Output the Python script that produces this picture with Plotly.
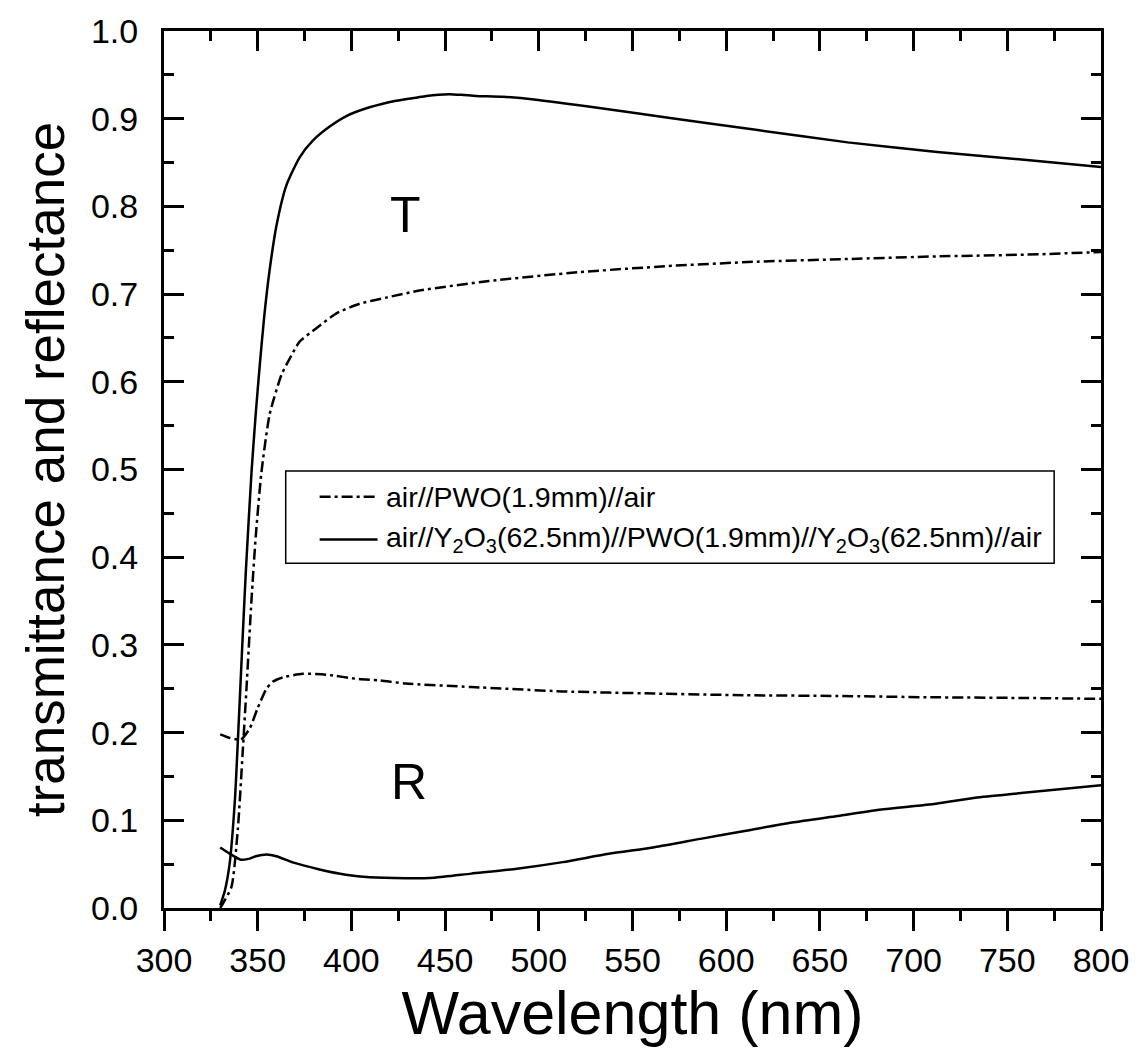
import plotly.graph_objects as go

# Transmittance of bare PWO (dash-dot)
wl_t_pwo = [330, 331.4, 336, 339.4, 342, 344, 346.7, 349, 352, 356.4, 362.7, 368, 372.4,
            381.3, 392, 404.4, 418.6, 436.3, 473.5, 521.3, 569.1, 616.9, 664.8, 712.6, 760.4, 800]
t_pwo = [0.0, 0.005, 0.024, 0.09, 0.178, 0.25, 0.352, 0.425, 0.497, 0.563, 0.608, 0.63, 0.646,
         0.661, 0.678, 0.689, 0.696, 0.704, 0.715, 0.725, 0.732, 0.737, 0.740, 0.743, 0.745, 0.748]

# Transmittance of Y2O3-coated PWO (solid)
wl_t_coat = [330, 332.5, 335, 337.8, 339.4, 342, 343.7, 346.7, 349, 351.1, 353.5, 356.4, 360,
             365.3, 372.4, 379.4, 388.4, 397.3, 409.7, 423.9, 434.5, 440, 452, 460, 466.5, 480.7,
             497.4, 533.2, 569.1, 616.8, 664.8, 712.6, 760.4, 800]
t_coat = [0.003, 0.02, 0.05, 0.122, 0.19, 0.31, 0.385, 0.497, 0.565, 0.619, 0.675, 0.728, 0.778,
          0.824, 0.856, 0.875, 0.891, 0.903, 0.913, 0.9205, 0.924, 0.926, 0.928, 0.927, 0.926, 0.925,
          0.922, 0.912, 0.901, 0.887, 0.873, 0.862, 0.853, 0.845]

# Reflectance of bare PWO (dash-dot)
wl_r_pwo = [330, 335, 341, 345.8, 350, 354.7, 358, 363.5, 374, 386.6, 404, 415, 429, 463.9,
            512.8, 561.7, 610.6, 659.5, 708.4, 757.3, 800]
r_pwo = [0.198, 0.194, 0.192, 0.205, 0.228, 0.25, 0.258, 0.263, 0.267, 0.266, 0.261, 0.2595,
         0.256, 0.252, 0.247, 0.2445, 0.2426, 0.2418, 0.2403, 0.2395, 0.2385]

# Reflectance of Y2O3-coated PWO (solid)
wl_r_coat = [330, 335, 341, 345, 349, 354.7, 360, 368.7, 383, 397, 409.7, 429, 444.3, 463.9,
             488.3, 512.8, 537.3, 561.7, 586.2, 610.6, 635.1, 659.5, 683.9, 708.4, 732.9, 757.3, 800]
r_coat = [0.069, 0.062, 0.055, 0.056, 0.059, 0.061, 0.059, 0.052, 0.044, 0.038, 0.035, 0.034,
          0.0346, 0.0392, 0.0448, 0.0523, 0.0618, 0.0693, 0.0788, 0.0881, 0.0975, 0.105, 0.1126,
          0.118, 0.1258, 0.131, 0.140]

name_pwo = "air//PWO(1.9mm)//air"
name_coat = ("air//Y<sub>2</sub>O<sub>3</sub>(62.5nm)//PWO(1.9mm)//"
             "Y<sub>2</sub>O<sub>3</sub>(62.5nm)//air")

x_ticks = [300, 350, 400, 450, 500, 550, 600, 650, 700, 750, 800]
y_ticks = [0.0, 0.1, 0.2, 0.3, 0.4, 0.5, 0.6, 0.7, 0.8, 0.9, 1.0]

FONT = "Liberation Sans, Arial, sans-serif"
DASHDOT = "11px,4px,3px,4px"
LW = 2.5

fig = go.Figure()
fig.add_trace(go.Scatter(x=wl_t_pwo, y=t_pwo, mode="lines", name=name_pwo,
                         line=dict(color="black", width=LW, dash=DASHDOT, shape="spline", smoothing=0.6)))
fig.add_trace(go.Scatter(x=wl_t_coat, y=t_coat, mode="lines", name=name_coat,
                         line=dict(color="black", width=LW, shape="spline", smoothing=0.6)))
fig.add_trace(go.Scatter(x=wl_r_pwo, y=r_pwo, mode="lines", name=name_pwo,
                         line=dict(color="black", width=LW, dash=DASHDOT, shape="spline", smoothing=0.6)))
fig.add_trace(go.Scatter(x=wl_r_coat, y=r_coat, mode="lines", name=name_coat,
                         line=dict(color="black", width=LW, shape="spline", smoothing=0.6)))
# empty trace that carries the top (mirror) axis
fig.add_trace(go.Scatter(x=[None], y=[None], xaxis="x2", hoverinfo="skip"))

# curve labels
fig.add_annotation(x=429, y=0.79, xref="x", yref="y", text="T", showarrow=False,
                   font=dict(family=FONT, size=50, color="black"))
fig.add_annotation(x=431, y=0.144, xref="x", yref="y", text="R", showarrow=False,
                   font=dict(family=FONT, size=50, color="black"))

# legend box drawn in paper coordinates
LEG_X0, LEG_X1, LEG_Y0, LEG_Y1 = 0.1299, 0.950, 0.3932, 0.4983
ROW_Y = [0.4689, 0.4203]
SAMPLE_X0, SAMPLE_X1, TEXT_X = 0.1661, 0.2279, 0.2343
fig.add_shape(type="rect", xref="paper", yref="paper", x0=LEG_X0, x1=LEG_X1, y0=LEG_Y0, y1=LEG_Y1,
              line=dict(color="black", width=1.5), fillcolor="white", layer="above")
for yy, dash, label in zip(ROW_Y, [DASHDOT, "solid"], [name_pwo, name_coat]):
    fig.add_shape(type="line", xref="paper", yref="paper", x0=SAMPLE_X0, x1=SAMPLE_X1, y0=yy, y1=yy,
                  line=dict(color="black", width=LW, dash=dash), layer="above")
    fig.add_annotation(x=TEXT_X, y=yy, xref="paper", yref="paper", text=label, showarrow=False,
                       xanchor="left", yanchor="middle",
                       font=dict(family=FONT, size=28.5, color="black"))

fig.update_layout(
    width=1141, height=1059,
    margin=dict(l=164, r=38, t=23, b=151),
    paper_bgcolor="white", plot_bgcolor="white",
    font=dict(family=FONT, color="black"),
    showlegend=False,
    xaxis=dict(
        range=[300, 800], tickvals=x_ticks, ticks="outside", ticklen=20, tickwidth=3,
        tickcolor="black", showline=True, linewidth=3, linecolor="black", mirror=True,
        showgrid=False, zeroline=False,
        tickfont=dict(family=FONT, size=34),
        minor=dict(dtick=25, tick0=300, ticks="outside", ticklen=10, tickwidth=3,
                   tickcolor="black", showgrid=False),
        title=dict(text="Wavelength (nm)", font=dict(family=FONT, size=61), standoff=8),
    ),
    xaxis2=dict(
        range=[300, 800], overlaying="x", side="top", anchor="y",
        tickvals=x_ticks, ticks="inside", ticklen=20, tickwidth=3, tickcolor="black",
        showticklabels=False, showline=False, showgrid=False, zeroline=False,
        minor=dict(dtick=25, tick0=300, ticks="inside", ticklen=10, tickwidth=3,
                   tickcolor="black", showgrid=False),
    ),
    yaxis=dict(
        range=[0, 1.0], tickvals=y_ticks, tickformat=".1f", ticks="inside", ticklen=20,
        tickwidth=3, tickcolor="black", showline=True, linewidth=3, linecolor="black",
        mirror="ticks", showgrid=False, zeroline=False,
        tickfont=dict(family=FONT, size=34), ticklabelstandoff=16,
        minor=dict(dtick=0.05, tick0=0, ticks="inside", ticklen=10, tickwidth=3,
                   tickcolor="black", showgrid=False),
        title=dict(text="transmittance and reflectance", font=dict(family=FONT, size=53),
                   standoff=10),
    ),
)

fig.write_html("out.html")
